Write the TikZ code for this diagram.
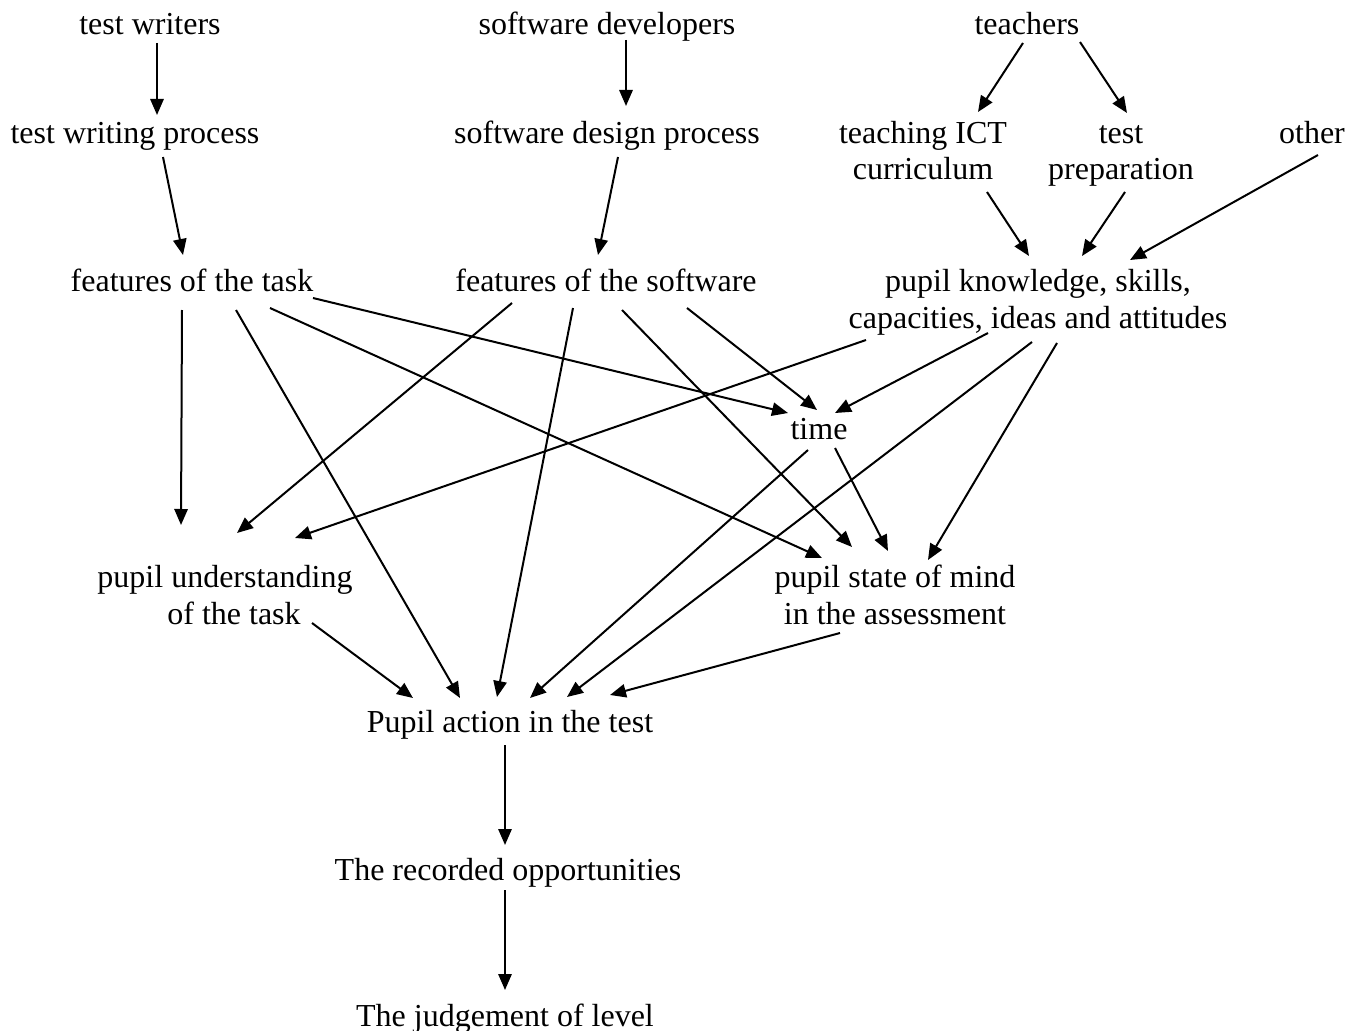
\documentclass[tikz,border=0pt]{standalone}
\usepackage{fontspec}
\setmainfont{Liberation Serif}
\usetikzlibrary{arrows.meta,calc}
\tikzset{
  lbl/.style={anchor=base, inner sep=0pt, outer sep=0pt, align=center,
    font=\fontsize{24}{27.75}\selectfont},
  arr/.style={line width=1.5pt, -{Triangle[length=12pt,width=10pt]}}
}
\begin{document}
\begin{tikzpicture}[x=0.75pt,y=-0.75pt]
\useasboundingbox (0,0) rectangle (1365,1031);
% nodes (base = baseline of the last line)
\node[lbl] (tw)   at (150,35)  {test writers};
\node[lbl] (sd)   at (607,35)  {software developers};
\node[lbl] (te)   at (1027,35) {teachers};
\node[lbl] (twp)  at (135,143) {test writing process};
\node[lbl] (sdp)  at (607,143) {software design process};
\node[lbl] (ict)  at (923,180) {teaching ICT\\curriculum};
\node[lbl] (prep) at (1121,180) {test\\preparation};
\node[lbl] (oth)  at (1312,143) {other};
\node[lbl] (fot)  at (192,291) {features of the task};
\node[lbl] (fos)  at (606,291) {features of the software};
\node[lbl] (pk)   at (1038,328) {pupil knowledge, skills,\\capacities, ideas and attitudes};
\node[lbl] (time) at (819,439) {time};
\node[lbl] (pu)   at (225,624) {pupil understanding\\\hspace*{13.5pt}of the task};
\node[lbl] (psm)  at (895,624) {pupil state of mind\\in the assessment};
\node[lbl] (pa)   at (510,732) {Pupil action in the test};
\node[lbl] (rec)  at (508,880) {The recorded opportunities};
\node[lbl] (jud)  at (505,1026) {The judgement of level};
% connectors
\draw[arr] ($(tw.base)+(7,8)$) -- ($(twp.base)+(22,-28)$);
\draw[arr] ($(sd.base)+(19,5)$) -- ($(sdp.base)+(19,-37)$);
\draw[arr] ($(te.base)+(-4,8)$) -- ($(ict.base)+(55,-68)$);
\draw[arr] ($(te.base)+(53,7)$) -- ($(prep.base)+(6,-67)$);
\draw[arr] ($(twp.base)+(28,14)$) -- ($(fot.base)+(-9,-36)$);
\draw[arr] ($(sdp.base)+(11,14)$) -- ($(fos.base)+(-8,-36)$);
\draw[arr] ($(ict.base)+(64,12)$) -- ($(pk.base)+(-9,-72)$);
\draw[arr] ($(prep.base)+(4,12)$) -- ($(pk.base)+(44,-72)$);
\draw[arr] ($(oth.base)+(6,12)$) -- ($(pk.base)+(92,-68)$);
\draw[arr] ($(fot.base)+(-10,19)$) -- ($(pu.base)+(-44,-99)$);
\draw[arr] ($(fot.base)+(44,19)$) -- ($(pa.base)+(-50,-34)$);
\draw[arr] ($(fot.base)+(78,17)$) -- ($(psm.base)+(-73,-66)$);
\draw[arr] ($(fot.base)+(121,7)$) -- ($(time.base)+(-31,-26)$);
\draw[arr] ($(fos.base)+(-94,12)$) -- ($(pu.base)+(12,-91)$);
\draw[arr] ($(fos.base)+(-33,17)$) -- ($(pa.base)+(-13,-35)$);
\draw[arr] ($(fos.base)+(16,19)$) -- ($(psm.base)+(-43,-77)$);
\draw[arr] ($(fos.base)+(81,17)$) -- ($(time.base)+(-2,-29)$);
\draw[arr] ($(pk.base)+(-172,12)$) -- ($(pu.base)+(70,-86)$);
\draw[arr] ($(pk.base)+(-50,5)$) -- ($(time.base)+(16,-26)$);
\draw[arr] ($(pk.base)+(-6,14)$) -- ($(pa.base)+(57,-35)$);
\draw[arr] ($(pk.base)+(19,15)$) -- ($(psm.base)+(33,-64)$);
\draw[arr] ($(time.base)+(-11,11)$) -- ($(pa.base)+(20,-34)$);
\draw[arr] ($(time.base)+(16,9)$) -- ($(psm.base)+(-7,-73)$);
\draw[arr] ($(pu.base)+(87,-1)$) -- ($(pa.base)+(-97,-34)$);
\draw[arr] ($(psm.base)+(-55,9)$) -- ($(pa.base)+(100,-37)$);
\draw[arr] ($(pa.base)+(-5,13)$) -- ($(rec.base)+(-3,-35)$);
\draw[arr] ($(rec.base)+(-3,10)$) -- ($(jud.base)+(0,-36)$);
\end{tikzpicture}
\end{document}
